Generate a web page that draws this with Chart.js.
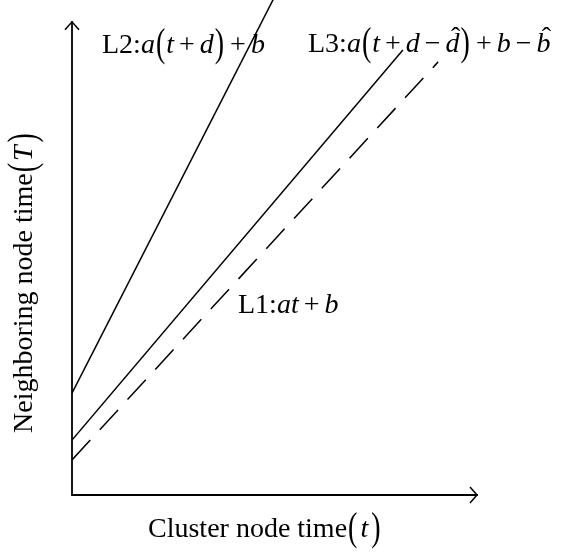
<!DOCTYPE html>
<html>
<head>
<meta charset="utf-8">
<script src="https://cdn.jsdelivr.net/npm/chart.js@4/dist/chart.umd.min.js"></script>
<style>
    body { margin: 0; background: #fff; }
    #wrap { width: 562px; height: 552px; }
</style>
</head>
<body>
<div id="wrap"><canvas id="clockChart"></canvas></div>
<script>
// cluster node time (t) at the two ends of each line, and neighboring node time (T)
const l1Times = [0, 9.04];
const l1Values = [0.85, 10.5];     // L1: at + b (dashed)
const l2Times = [0, 5.3];
const l2Values = [2.47, 12.65];    // L2: a(t + d) + b
const l3Times = [0, 8.17];
const l3Values = [1.33, 10.79];    // L3: a(t + d - d^) + b - b^

// axis extents
const tAxis = [0, 10];
const yAxis = [0, 12];
const yArrowTop = 11.47;

const SERIF = '"Liberation Serif", "Times New Roman", serif';

function pts(ts, vs) {
    return ts.map((t, i) => ({ x: t, y: vs[i] }));
}

// draw a run of math text: upright / italic pieces, tall parens, hats
function drawMath(ctx, x, y, parts, size) {
    parts.forEach(p => {
        ctx.font = (p.it ? 'italic ' : '') + size + 'px ' + SERIF;
        x += (p.pre || 0);
        const w = ctx.measureText(p.t).width;
        if (p.sy) {
            ctx.save();
            ctx.translate(x, y + (p.dy || 0));
            ctx.scale(1, p.sy);
            ctx.fillText(p.t, 0, 0);
            ctx.restore();
        } else {
            ctx.fillText(p.t, x, y);
        }
        if (p.hat) {
            ctx.font = size + 'px ' + SERIF;
            const hw = ctx.measureText('\u02C6').width;
            ctx.fillText('\u02C6', x + w / 2 - hw / 2 + 3, y - size * 0.22);
        }
        x += w + (p.post || 0);
    });
}

const sp = 5;
const op = t => ({ t: t, pre: sp, post: sp });
const paren = t => ({ t: t, sy: 1.42, dy: 3, pre: 1, post: 1 });

const labelsPlugin = {
    id: 'labels',
    afterDatasetsDraw(chart) {
        const ctx = chart.ctx;
        const xs = chart.scales.x, ys = chart.scales.y;
        const x0 = xs.getPixelForValue(tAxis[0]);
        const y0 = ys.getPixelForValue(yAxis[0]);
        const xEnd = xs.getPixelForValue(tAxis[1]);
        const yEnd = ys.getPixelForValue(yArrowTop);
        ctx.save();
        ctx.strokeStyle = '#000';
        ctx.fillStyle = '#000';
        ctx.lineWidth = 1.8;
        ctx.lineCap = 'square';
        ctx.beginPath();
        ctx.moveTo(x0, yEnd);
        ctx.lineTo(x0, y0);
        ctx.lineTo(xEnd, y0);
        ctx.stroke();
        ctx.lineWidth = 1.5;
        ctx.lineCap = 'butt';
        ctx.beginPath();
        ctx.moveTo(x0 - 7, yEnd + 8);
        ctx.lineTo(x0, yEnd);
        ctx.lineTo(x0 + 7, yEnd + 8);
        ctx.moveTo(xEnd - 7, y0 - 8);
        ctx.lineTo(xEnd, y0);
        ctx.lineTo(xEnd - 7, y0 + 8);
        ctx.stroke();

        ctx.textBaseline = 'alphabetic';
        ctx.textAlign = 'left';

        drawMath(ctx, 102, 53, [
            { t: 'L2:' }, { t: 'a', it: true }, paren('('), { t: 't', it: true },
            op('+'), { t: 'd', it: true }, paren(')'), op('+'), { t: 'b', it: true }
        ], 28);

        drawMath(ctx, 308, 52, [
            { t: 'L3:' }, { t: 'a', it: true }, paren('('), { t: 't', it: true },
            op('+'), { t: 'd', it: true }, op('\u2212'), { t: 'd', it: true, hat: true },
            paren(')'), op('+'), { t: 'b', it: true }, op('\u2212'), { t: 'b', it: true, hat: true }
        ], 28);

        drawMath(ctx, 238, 313, [
            { t: 'L1:' }, { t: 'a', it: true }, { t: 't', it: true }, op('+'), { t: 'b', it: true }
        ], 28);

        drawMath(ctx, 148, 537, [
            { t: 'Cluster node time' }, paren('('), { t: 't', it: true, pre: 2, post: 2 }, paren(')')
        ], 28);

        ctx.translate(32, 433);
        ctx.rotate(-Math.PI / 2);
        drawMath(ctx, 0, 0, [
            { t: 'Neighboring node time' }, paren('('), { t: 'T', it: true, pre: 1, post: 2 }, paren(')')
        ], 28);
        ctx.restore();
    }
};

const ctx = document.getElementById('clockChart').getContext('2d');
new Chart(ctx, {
    type: 'scatter',
    data: {
        datasets: [
            { label: 'L1', data: pts(l1Times, l1Values), borderDash: [27, 14] },
            { label: 'L2', data: pts(l2Times, l2Values) },
            { label: 'L3', data: pts(l3Times, l3Values) }
        ]
    },
    options: {
        responsive: true,
        maintainAspectRatio: false,
        animation: false,
        showLine: true,
        layout: { padding: { left: 72, right: 85, top: 0, bottom: 57 } },
        elements: {
            point: { radius: 0, hoverRadius: 0 },
            line: { borderColor: '#000', borderWidth: 1.5, tension: 0 }
        },
        scales: {
            x: { type: 'linear', min: tAxis[0], max: tAxis[1], display: false },
            y: { type: 'linear', min: yAxis[0], max: yAxis[1], display: false }
        },
        plugins: { legend: { display: false }, tooltip: { enabled: false } }
    },
    plugins: [labelsPlugin]
});
</script>
</body>
</html>
